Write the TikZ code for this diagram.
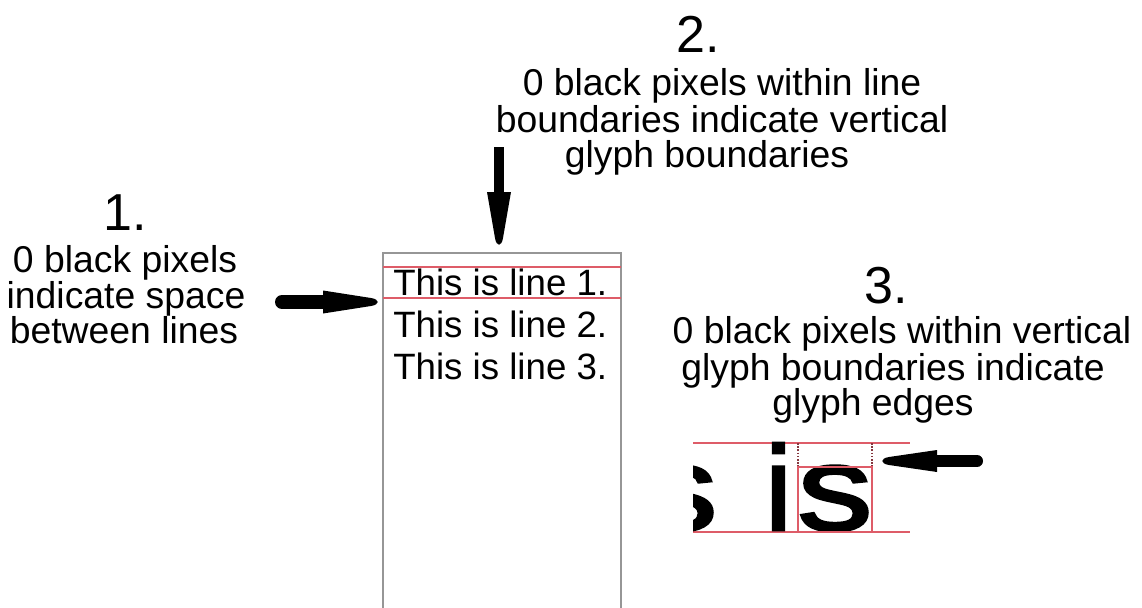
\documentclass[tikz,border=0pt]{standalone}
\usepackage{fontspec}
\setmainfont{Liberation Sans}
\newfontfamily\glyphfont[FakeBold=2.2]{Liberation Sans}
\definecolor{lred}{RGB}{222,92,104}
\definecolor{boxgray}{RGB}{150,150,150}
\begin{document}
\begin{tikzpicture}[x=0.75pt,y=-0.75pt,
  lbl/.style={font=\fontsize{28}{28}\selectfont, inner sep=0, anchor=base},
  num/.style={font=\fontsize{39}{39}\selectfont, inner sep=0, anchor=base},
  boxtxt/.style={font=\fontsize{27.5}{27.5}\selectfont, inner sep=0, anchor=base west},
  glyph/.style={font=\glyphfont\fontsize{90}{90}\selectfont, inner sep=0},
  redline/.style={draw=lred, line width=0.9pt},
  reddot/.style={draw=lred!60!black, line width=0.9pt, dash pattern=on 1.2pt off 1.2pt},
  pagebox/.style={draw=boxgray, line width=1.8pt},
  fat/.style={fill=black, draw=none}]
\useasboundingbox (0,0) rectangle (1142,607);

% page box (extends beyond bottom)
\draw[pagebox] (383,612) -- (383,253) -- (621,253) -- (621,612);
\coordinate (boxtop) at (499,253);

% line boundaries
\draw[redline] (383,267) -- (621,267);
\draw[redline] (383,298) -- (621,298);

% text in the box
\node[boxtxt] (t1) at (393,295) {This is line 1.};
\node[boxtxt] (t2) at (393,337) {This is line 2.};
\node[boxtxt] (t3) at (393,379) {This is line 3.};

% label 1
\node[num] (n1) at (125,230) {1.};
\node[lbl] (l1a) at (125,272) {0 black pixels};
\node[lbl] (l1b) at (126,308) {indicate space};
\node[lbl] (l1c) at (124,343) {between lines};

% label 2
\node[num] (n2) at (698,52) {2.};
\node[lbl] (l2a) at (722,95) {0 black pixels within line};
\node[lbl] (l2b) at (722,132) {boundaries indicate vertical};
\node[lbl] (l2c) at (707,167) {glyph boundaries};

% label 3
\node[num] (n3) at (886,303) {3.};
\node[lbl] (l3a) at (902,343) {0 black pixels within vertical};
\node[lbl] (l3b) at (893,380) {glyph boundaries indicate};
\node[lbl] (l3c) at (873,415) {glyph edges};

% arrow 1 (pointing right)
\coordinate (a1tip) at (378,302);
\fill[fat] (323,290.5) -- (371,298) .. controls (380,299.5) and (380,304.5) .. (371,306) -- (323,313.5) -- cycle;
\draw[line width=10.5pt, line cap=round] (282,302) -- (324,302);

% arrow 2 (pointing down)
\coordinate (a2tip) at (499,245);
\fill[fat] (487,192) -- (495,238) .. controls (496.5,247) and (501.5,247) .. (503,238) -- (511,192) -- cycle;
\draw[line width=7.5pt] (499,147) -- (499,193);

% arrow 3 (pointing left)
\coordinate (a3tip) at (882,461);
\fill[fat] (937,450) -- (889,457) .. controls (880,458.5) and (880,463.5) .. (889,465) -- (937,472) -- cycle;
\draw[line width=9pt, line cap=round] (936,461) -- (977,461);

% glyph detail
\draw[redline] (693,443) -- (910,443);
\draw[redline] (693,532) -- (910,532);
\draw[reddot] (798,443) -- (798,467);
\draw[reddot] (872,443) -- (872,467);
\begin{scope}
  \clip (693,440) rectangle (730,535);
  \node[glyph, anchor=base, xscale=1.25] (sprev) at (680,530) {s};
\end{scope}
\node[glyph, anchor=base west] (gi) at (765,530) {i};
\node[glyph, anchor=base, xscale=1.25] (gs) at (835,530) {s};
\draw[redline] (798,467) rectangle (872,532);
\end{tikzpicture}
\end{document}
